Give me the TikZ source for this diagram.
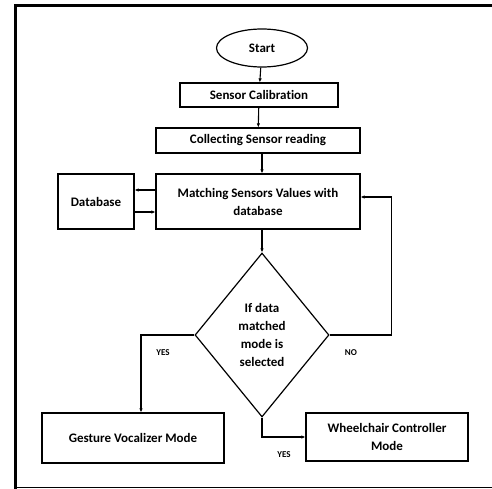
\documentclass[tikz,border=0pt]{standalone}
\usepackage{fontspec}
\setmainfont[Ligatures=NoCommon]{Carlito}
\usetikzlibrary{shapes.geometric,arrows.meta}

\tikzset{
    block/.style={draw, line width=1.2pt, font=\bfseries\fontsize{13}{18}\selectfont, align=center, inner sep=2pt},
    flow/.style={line width=1.1pt, -{Latex[length=4pt,width=3.5pt]}},
    tag/.style={font=\bfseries\fontsize{9}{10}\selectfont}
}

\begin{document}
\begin{tikzpicture}[x=1pt,y=-1pt]
    \useasboundingbox (0,0) rectangle (492,489);
    % frame
    \draw[line width=3.5pt] (15.5,489) -- (15.5,5.5) -- (492,5.5);
    \draw[line width=1.2pt] (15.5,487.5) -- (492,487.5);

    \node[block, ellipse, minimum width=91pt, minimum height=38pt] (start) at (262,48) {Start};
    \node[block, minimum width=158pt, minimum height=24pt] (calib) at (259,95) {Sensor Calibration};
    \node[block, minimum width=204pt, minimum height=25pt] (collect) at (258,140.5) {Collecting Sensor reading};
    \node[block, minimum width=204pt, minimum height=55pt] (match) at (258,201.5) {Matching Sensors Values with\\database};
    \node[block, minimum width=76pt, minimum height=55pt] (db) at (96,201.5) {Database};
    \node[block, diamond, aspect=0.82, minimum width=134pt, minimum height=164pt, inner sep=0pt] (dec) at (262,335) {If data\\matched\\mode is\\selected};
    \node[block, minimum width=182pt, minimum height=50pt] (gest) at (133,438) {Gesture Vocalizer Mode};
    \node[block, minimum width=162pt, minimum height=48pt] (wheel) at (387,437) {Wheelchair Controller\\Mode};

    \draw[flow] (start) -- (calib);
    \draw[flow] (calib) -- (collect);
    \draw[flow] ([xshift=4pt]collect.south) -- ([xshift=4pt]match.north);
    \draw[flow] ([yshift=11.5pt]match.west) -- ([yshift=11.5pt]db.east);
    \draw[flow] ([yshift=-10.5pt]db.east) -- ([yshift=-10.5pt]match.west);
    \draw[flow] ([xshift=4pt]match.south) -- (dec.north);
    \draw[flow] (dec.east) -- ++(62,0) |- ([yshift=4.5pt]match.east);
    \draw[flow] (dec.west) -| ([xshift=8pt]gest.north);
    \draw[flow] (dec.south) |- (wheel.west);

    \node[tag] (yes1) at (163,353) {YES};
    \node[tag] (no) at (351,353) {NO};
    \node[tag] (yes2) at (284,455) {YES};
\end{tikzpicture}
\end{document}
